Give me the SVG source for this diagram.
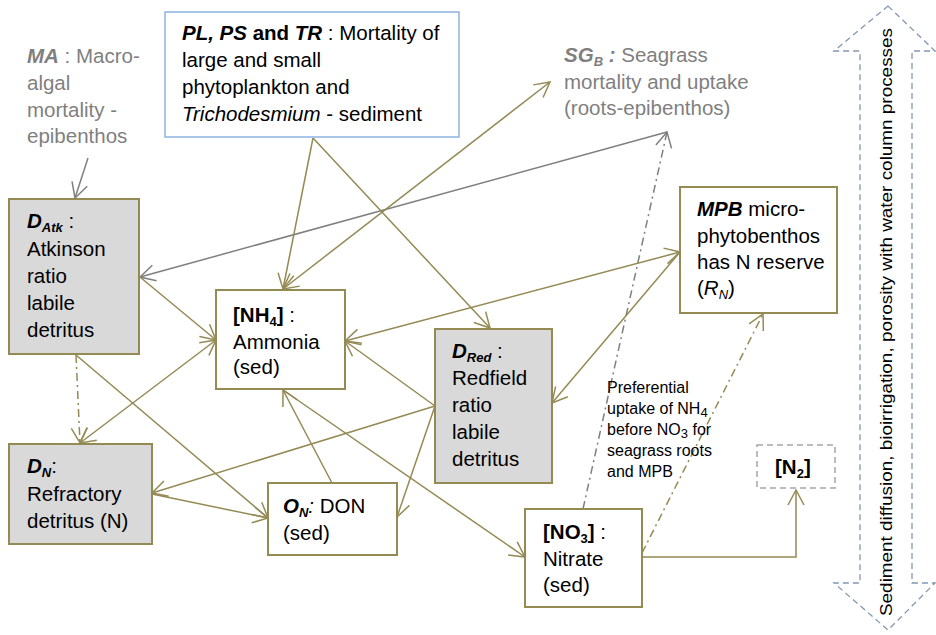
<svg xmlns="http://www.w3.org/2000/svg" width="936" height="635" viewBox="0 0 936 635">
<style>
text{font-family:"Liberation Sans",Arial,sans-serif;font-size:20.5px;fill:#000}
.g{fill:#7f7f7f}
.bi{font-weight:bold;font-style:italic}
.b{font-weight:bold}
.i{font-style:italic}
.sub{font-size:13px}
.sm{font-size:16px}
.box{fill:#fff;stroke:#948a54;stroke-width:2}
.gbox{fill:#d9d9d9;stroke:#948a54;stroke-width:2}
.ol{fill:none;stroke:#948a54;stroke-width:1.5}
.gr{fill:none;stroke:#7f7f7f;stroke-width:1.5}
.dd{stroke-dasharray:8 4 2 4}
</style>
<defs>
<marker id="ao" viewBox="-17 -10 19 20" refX="0" refY="0" markerWidth="19" markerHeight="20" markerUnits="userSpaceOnUse" orient="auto-start-reverse">
<path d="M-15,-8 L0,0 L-15,8" fill="none" stroke="#948a54" stroke-width="1.5"/>
</marker>
<marker id="ag" viewBox="-17 -10 19 20" refX="0" refY="0" markerWidth="19" markerHeight="20" markerUnits="userSpaceOnUse" orient="auto-start-reverse">
<path d="M-15,-8 L0,0 L-15,8" fill="none" stroke="#7f7f7f" stroke-width="1.5"/>
</marker>
</defs>

<g id="connectors">
<path class="gr" d="M88,158 L75,198" marker-end="url(#ag)"/>
<path class="gr" d="M667,132 L140,277" marker-end="url(#ag)"/>
<path class="gr dd" d="M583,509 L667,132" marker-end="url(#ag)"/>
<path class="ol" d="M313,138 L283,289" marker-end="url(#ao)"/>
<path class="ol" d="M313,138 L490,328" marker-end="url(#ao)"/>
<path class="ol" d="M283,289 L550,82" marker-start="url(#ao)" marker-end="url(#ao)"/>
<path class="ol" d="M140,277 L216,340" marker-end="url(#ao)"/>
<path class="ol" d="M80,443 L216,340" marker-start="url(#ao)" marker-end="url(#ao)"/>
<path class="ol dd" d="M76,355 L80,443" marker-end="url(#ao)"/>
<path class="ol" d="M76,355 L268,518" marker-end="url(#ao)"/>
<path class="ol" d="M152,494 L268,518" marker-end="url(#ao)"/>
<path class="ol" d="M435,406 L152,493" marker-end="url(#ao)"/>
<path class="ol" d="M435,406 L397,517" marker-end="url(#ao)"/>
<path class="ol" d="M435,406 L345,341" marker-end="url(#ao)"/>
<path class="ol" d="M345,341 L680,252" marker-start="url(#ao)" marker-end="url(#ao)"/>
<path class="ol" d="M680,252 L552,403" marker-end="url(#ao)"/>
<path class="ol" d="M283,390 L525,557" marker-end="url(#ao)"/>
<path class="ol" d="M332,483 L283,390" marker-end="url(#ao)"/>
<path class="ol dd" d="M642,553 L763,314" marker-end="url(#ao)"/>
<path class="ol" d="M642,557 L796,557 L796,490" marker-end="url(#ao)"/>
</g>

<g id="MA">
<text x="27" y="63"><tspan class="g bi">MA</tspan><tspan class="g"> : Macro-</tspan></text>
<text class="g" x="27" y="90">algal</text>
<text class="g" x="27" y="117">mortality -</text>
<text class="g" x="27" y="143">epibenthos</text>
</g>

<g id="PL">
<rect x="165" y="12" width="294" height="125" fill="#fff" stroke="#8db3e2" stroke-width="1.5"/>
<text x="182" y="40"><tspan class="bi">PL, PS</tspan><tspan class="b"> and </tspan><tspan class="bi">TR</tspan> : Mortality of</text>
<text x="182" y="67">large and small</text>
<text x="182" y="94">phytoplankton  and</text>
<text x="182" y="121"><tspan class="i">Trichodesmium</tspan> - sediment</text>
</g>

<g id="SGB">
<text x="564" y="62"><tspan class="g bi">SG</tspan><tspan class="g bi sub" dy="4">B</tspan><tspan class="g bi" dy="-4"> :</tspan><tspan class="g"> Seagrass</tspan></text>
<text class="g" x="564" y="89">mortality and uptake</text>
<text class="g" x="564" y="115">(roots-epibenthos)</text>
</g>

<g id="DAtk">
<rect class="gbox" x="9" y="199" width="130" height="155"/>
<text x="27" y="228"><tspan class="bi">D</tspan><tspan class="bi sub" dy="4">Atk</tspan><tspan dy="-4"> :</tspan></text>
<text x="27" y="256">Atkinson</text>
<text x="27" y="283">ratio</text>
<text x="27" y="310">labile</text>
<text x="27" y="337">detritus</text>
</g>

<g id="NH4">
<rect class="box" x="216" y="290" width="129" height="99"/>
<text x="233" y="322"><tspan class="b">[NH</tspan><tspan class="b sub" dy="4">4</tspan><tspan class="b" dy="-4">]</tspan> :</text>
<text x="233" y="349">Ammonia</text>
<text x="233" y="374">(sed)</text>
</g>

<g id="DRed">
<rect class="gbox" x="435" y="329" width="117" height="154"/>
<text x="452" y="358"><tspan class="bi">D</tspan><tspan class="bi sub" dy="4">Red</tspan><tspan dy="-4"> :</tspan></text>
<text x="452" y="385">Redfield</text>
<text x="452" y="412">ratio</text>
<text x="452" y="439">labile</text>
<text x="452" y="466">detritus</text>
</g>

<g id="MPB">
<rect class="box" x="680" y="187" width="157" height="126"/>
<text x="697" y="216"><tspan class="bi">MPB</tspan> micro-</text>
<text x="697" y="243">phytobenthos</text>
<text x="697" y="269"> has N reserve</text>
<text x="697" y="295">(<tspan class="i">R</tspan><tspan class="i sub" dy="4">N</tspan><tspan dy="-4">)</tspan></text>
</g>

<g id="DN">
<rect class="gbox" x="9" y="444" width="143" height="100"/>
<text x="27" y="473"><tspan class="bi">D</tspan><tspan class="bi sub" dy="4">N</tspan><tspan dy="-4">:</tspan></text>
<text x="27" y="501">Refractory</text>
<text x="27" y="528">detritus (N)</text>
</g>

<g id="ON">
<rect class="box" x="268" y="483" width="129" height="72"/>
<text x="283" y="513"><tspan class="bi">O</tspan><tspan class="bi sub" dy="4">N</tspan><tspan class="i" dy="-4">:</tspan> DON</text>
<text x="283" y="540">(sed)</text>
</g>

<g id="NO3">
<rect class="box" x="525" y="509" width="117" height="98"/>
<text x="543" y="539"><tspan class="b">[NO</tspan><tspan class="b sub" dy="4">3</tspan><tspan class="b" dy="-4">]</tspan> :</text>
<text x="543" y="566">Nitrate</text>
<text x="543" y="592">(sed)</text>
</g>

<g id="N2">
<rect x="757" y="445" width="78" height="43" fill="#fff" stroke="#a6a6a6" stroke-width="1.5" stroke-dasharray="6 4"/>
<text x="775" y="474"><tspan class="b">[N</tspan><tspan class="b sub" dy="4">2</tspan><tspan class="b" dy="-4">]</tspan></text>
</g>

<g id="note">
<text class="sm" x="607" y="393">Preferential</text>
<text class="sm" x="607" y="414">uptake of NH<tspan class="sub" dy="3">4</tspan></text>
<text class="sm" x="607" y="435">before NO<tspan class="sub" dy="3">3</tspan><tspan dy="-3"> for</tspan></text>
<text class="sm" x="607" y="456">seagrass roots</text>
<text class="sm" x="607" y="477">and MPB</text>
</g>

<g id="exchange">
<path d="M888,6 L935,51 L912,51 L912,583 L935,583 L888,630 L834,583 L860,583 L860,51 L834,51 Z" fill="#fff" stroke="#8497b0" stroke-width="1.3" stroke-dasharray="6 4"/>
<text transform="translate(892,616) rotate(-90)" x="0" y="0" textLength="588" lengthAdjust="spacingAndGlyphs" style="font-size:17px">Sediment diffusion,  bioirrigation, porosity with water column processes</text>
</g>
</svg>
